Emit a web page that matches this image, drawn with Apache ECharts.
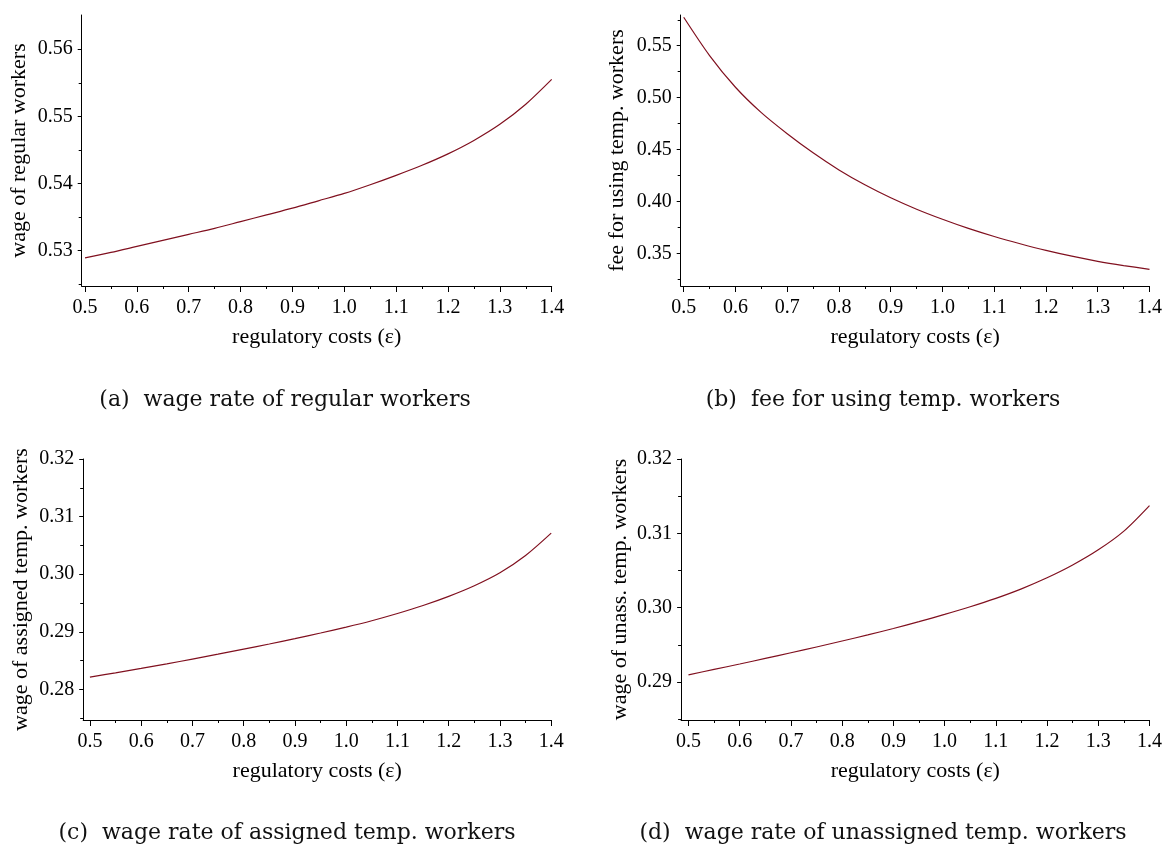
<!DOCTYPE html>
<html>
<head>
<meta charset="utf-8">
<script src="https://cdn.jsdelivr.net/npm/echarts@6/dist/echarts.min.js"></script>
<style>
html,body{margin:0;padding:0;background:#fff;}
#c{width:1166px;height:847px;}
</style>
</head>
<body>
<div id="c"></div>
<script>
// ---- data ----
const eps = [0.5, 0.55, 0.6, 0.65, 0.7, 0.75, 0.8, 0.85, 0.9, 0.95, 1.0, 1.05, 1.1, 1.15, 1.2, 1.25, 1.3, 1.35, 1.4];
const wageRegular = [0.5289, 0.5297, 0.5306, 0.5315, 0.5324, 0.5333, 0.5343, 0.5353, 0.5363, 0.5374, 0.5385, 0.5398, 0.5412, 0.5427, 0.5444, 0.5464, 0.5488, 0.5518, 0.5555];
const feeTemp = [0.5774, 0.5405, 0.5100, 0.4855, 0.4652, 0.4468, 0.4303, 0.4160, 0.4035, 0.3925, 0.3828, 0.3740, 0.3662, 0.3592, 0.3528, 0.3472, 0.3423, 0.3382, 0.3346];
const wageAssigned = [0.28215, 0.28289, 0.28365, 0.28444, 0.28527, 0.28612, 0.28700, 0.28789, 0.28882, 0.28980, 0.29082, 0.29193, 0.29318, 0.29457, 0.29616, 0.29800, 0.30025, 0.30325, 0.30713];
const wageUnassigned = [0.29098, 0.29170, 0.29243, 0.29318, 0.29394, 0.29472, 0.29552, 0.29634, 0.29720, 0.29812, 0.29910, 0.30013, 0.30126, 0.30254, 0.30402, 0.30574, 0.30778, 0.31030, 0.31373];

const xTicks = [0.5, 0.6, 0.7, 0.8, 0.9, 1.0, 1.1, 1.2, 1.3, 1.4];
const xMinorTicks = [0.55, 0.65, 0.75, 0.85, 0.95, 1.05, 1.15, 1.25, 1.35];
const yTicksA = [0.53, 0.54, 0.55, 0.56];
const yMinorA = [0.525, 0.535, 0.545, 0.555];
const yTicksB = [0.35, 0.40, 0.45, 0.50, 0.55];
const yMinorB = [0.325, 0.375, 0.425, 0.475, 0.525, 0.575];
const yTicksC = [0.28, 0.29, 0.30, 0.31, 0.32];
const yMinorC = [0.275, 0.285, 0.295, 0.305, 0.315];
const yTicksD = [0.29, 0.30, 0.31, 0.32];
const yMinorD = [0.285, 0.295, 0.305, 0.315];

const xTitle = 'regulatory costs (ε)';
const yTitles = ['wage of regular workers', 'fee for using temp. workers', 'wage of assigned temp. workers', 'wage of unass. temp. workers'];
const captions = ['(a)  wage rate of regular workers', '(b)  fee for using temp. workers', '(c)  wage rate of assigned temp. workers', '(d)  wage rate of unassigned temp. workers'];

// ---- layout ----
const FONT = '"Liberation Serif", "Times New Roman", serif';
const panels = [
  {left: 81.7, top: 15, width: 470, height: 271, xmin: 0.4936, ymin: 0.5247, ymax: 0.5651, vals: wageRegular, yT: yTicksA, yM: yMinorA, nameGap: 51, cap: [285, 400]},
  {left: 680.7, top: 15, width: 468.8, height: 271, xmin: 0.4942, ymin: 0.3185, ymax: 0.5796, vals: feeTemp, yT: yTicksB, yM: yMinorB, nameGap: 52, cap: [883, 400]},
  {left: 83.2, top: 459, width: 468, height: 261, xmin: 0.4869, ymin: 0.2747, ymax: 0.32, vals: wageAssigned, yT: yTicksC, yM: yMinorC, nameGap: 51, cap: [287, 833]},
  {left: 681.1, top: 459, width: 468.4, height: 261, xmin: 0.4856, ymin: 0.2849, ymax: 0.32, vals: wageUnassigned, yT: yTicksD, yM: yMinorD, nameGap: 50, cap: [883, 833]}
];

const grid = [], xAxis = [], yAxis = [], series = [], graphic = [];
panels.forEach((p, i) => {
  grid.push({left: p.left, top: p.top, width: p.width, height: p.height, containLabel: false});
  xAxis.push({
    gridIndex: i, type: 'value', min: p.xmin, max: 1.4,
    name: xTitle, nameLocation: 'middle', nameGap: 40,
    nameTextStyle: {fontFamily: FONT, fontSize: 22, color: '#000'},
    axisLine: {show: true, onZero: false, lineStyle: {color: '#000', width: 1}},
    axisTick: {show: true, length: 6, lineStyle: {color: '#000'}, customValues: xTicks},
    axisLabel: {show: true, margin: 12, fontFamily: FONT, fontSize: 20, color: '#000', customValues: xTicks, formatter: v => v.toFixed(1)},
    splitLine: {show: false}
  });
  xAxis.push({
    gridIndex: i, type: 'value', min: p.xmin, max: 1.4, position: 'bottom',
    axisLine: {show: false, onZero: false},
    axisTick: {show: true, length: 3, lineStyle: {color: '#000'}, customValues: xMinorTicks},
    axisLabel: {show: false}, splitLine: {show: false}
  });
  yAxis.push({
    gridIndex: i, type: 'value', min: p.ymin, max: p.ymax,
    name: yTitles[i], nameLocation: 'middle', nameGap: p.nameGap, nameRotate: 90,
    nameTextStyle: {fontFamily: FONT, fontSize: 22, color: '#000'},
    axisLine: {show: true, onZero: false, lineStyle: {color: '#000', width: 1}},
    axisTick: {show: true, length: 4, lineStyle: {color: '#000'}, customValues: p.yT},
    axisLabel: {show: true, margin: 9, fontFamily: FONT, fontSize: 20, color: '#000', customValues: p.yT, formatter: v => v.toFixed(2)},
    splitLine: {show: false}
  });
  yAxis.push({
    gridIndex: i, type: 'value', min: p.ymin, max: p.ymax, position: 'left',
    axisLine: {show: false, onZero: false},
    axisTick: {show: true, length: 3, lineStyle: {color: '#000'}, customValues: p.yM},
    axisLabel: {show: false}, splitLine: {show: false}
  });
  series.push({
    type: 'line', xAxisIndex: 2 * i, yAxisIndex: 2 * i,
    data: eps.map((e, k) => [e, p.vals[k]]),
    smooth: 0.3, showSymbol: false, symbol: 'none',
    lineStyle: {color: '#80101f', width: 1.2}
  });
  graphic.push({
    type: 'text', x: p.cap[0], y: p.cap[1],
    style: {text: captions[i], font: '22px "DejaVu Serif", serif', fill: '#111', textAlign: 'center', textVerticalAlign: 'middle'}
  });
});

const chart = echarts.init(document.getElementById('c'), null, {renderer: 'canvas'});
chart.setOption({animation: false, backgroundColor: '#fff', grid, xAxis, yAxis, series, graphic});
</script>
</body>
</html>
